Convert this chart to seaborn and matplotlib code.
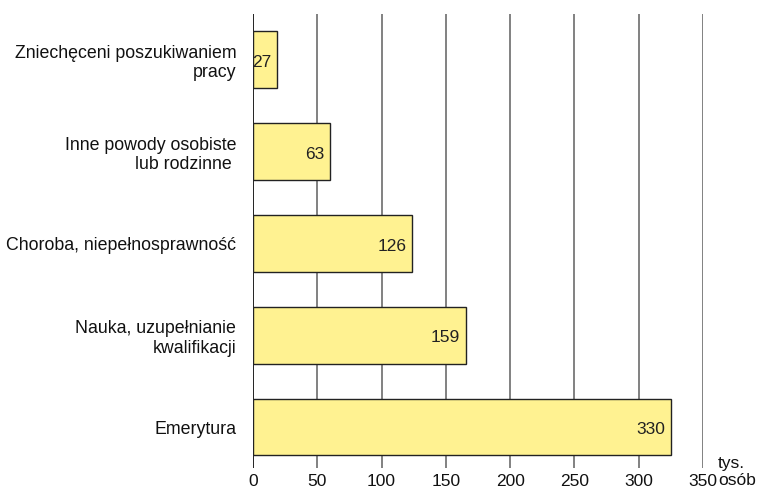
import matplotlib
matplotlib.use("Agg")
import matplotlib.pyplot as plt
import seaborn as sns
import pandas as pd

categories = [
    "Zniechęceni poszukiwaniem\npracy",
    "Inne powody osobiste\nlub rodzinne ",
    "Choroba, niepełnosprawność",
    "Nauka, uzupełnianie\nkwalifikacji",
    "Emerytura",
]
# bar lengths as drawn in the picture
bar_lengths = [18.7, 60, 123.6, 165.6, 325]
# numbers printed inside the bars
printed_values = ["27", "63", "126", "159", "330"]
x_ticks = [0, 50, 100, 150, 200, 250, 300, 350]

sns.set_theme(style="white")
plt.rcParams["font.family"] = ["Liberation Sans", "DejaVu Sans"]

df = pd.DataFrame({"cat": categories, "val": bar_lengths})

fig = plt.figure(figsize=(7.69, 4.93), dpi=100)
ax = fig.add_axes([0.329, 0.05, 0.914 - 0.329, 0.972 - 0.05])

sns.barplot(data=df, x="val", y="cat", orient="h", color="#FFF291",
            edgecolor="#222222", linewidth=1.0, width=0.62, saturation=1,
            ax=ax, zorder=3)

ax.set_xlim(0, 350)
ax.set_ylim(4.45, -0.5)
ax.set_xticks(x_ticks)
ax.set_xticklabels([str(t) for t in x_ticks])
for t in x_ticks:
    ax.axvline(t, color="#111111" if t == 0 else "#777777", lw=1.3, zorder=1)

for s in ax.spines.values():
    s.set_visible(False)
ax.set_xlabel("")
ax.set_ylabel("")
ax.tick_params(axis="x", length=0, labelsize=12.5, colors="#111111", pad=4)
ax.tick_params(axis="y", length=0, labelsize=12.8, colors="#111111", pad=12)
for lab in ax.get_yticklabels():
    lab.set_multialignment("right")
    lab.set_linespacing(1.2)

for i, (v, txt) in enumerate(zip(bar_lengths, printed_values)):
    ax.annotate(txt, xy=(v, i), xytext=(-4, -2), textcoords="offset points",
                ha="right", va="center", fontsize=12.5, color="#222222", zorder=4)

fig.text(718 / 769, 1 - 456 / 493, "tys.\nosób", fontsize=12.5, color="#111111",
         ha="left", va="top", linespacing=1.15)

fig.savefig("out.png", dpi=100)
